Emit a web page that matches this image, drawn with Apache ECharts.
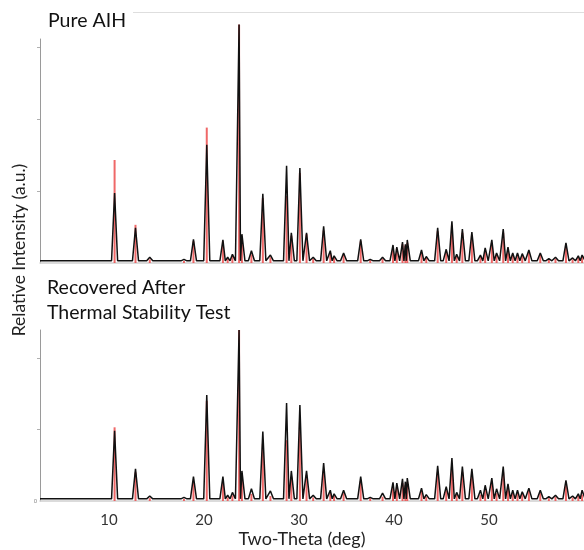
<!DOCTYPE html>
<html>
<head>
<meta charset="utf-8">
<script src="https://cdn.jsdelivr.net/npm/echarts@6/dist/echarts.min.js"></script>
<style>
  html, body { margin: 0; padding: 0; background: #fff; }
  #chart { width: 584px; height: 550px; }
</style>
</head>
<body>
<div id="chart"></div>
<script>
// 2-theta range shown on both panels
const thetaMin = 2.75;
const thetaMax = 60;
const xTickLabels = [10, 20, 30, 40, 50];

// Reflection positions (deg 2-theta)
const peakPos = [10.6, 12.8, 14.3, 17.9, 18.9, 20.3, 22.0, 22.5, 23.0, 23.7, 24.0, 25.0, 26.2, 27.0,
  28.7, 29.2, 30.1, 30.8, 31.5, 32.6, 33.3, 33.7, 34.7, 36.5, 37.5, 38.8, 39.9, 40.3, 40.9, 41.2,
  41.4, 42.9, 43.4, 44.6, 45.5, 46.1, 46.6, 47.2, 48.2, 49.1, 49.6, 50.3, 50.8, 51.5, 52.0, 52.5,
  53.0, 53.5, 54.2, 55.4, 56.3, 57.0, 58.1, 58.8, 59.4, 59.8];

// Measured intensities, pure AIH
const pureMeasured = [0.97, 0.49, 0.08, 0.05, 0.33, 1.64, 0.32, 0.08, 0.12, 3.31, 0.40, 0.17, 0.96, 0.11,
  1.35, 0.42, 1.32, 0.42, 0.08, 0.51, 0.17, 0.10, 0.14, 0.33, 0.05, 0.08, 0.25, 0.22, 0.29, 0.26,
  0.32, 0.18, 0.09, 0.49, 0.19, 0.58, 0.12, 0.47, 0.43, 0.11, 0.21, 0.32, 0.14, 0.47, 0.22, 0.14,
  0.14, 0.13, 0.18, 0.14, 0.06, 0.08, 0.28, 0.07, 0.10, 0.11];

// Reference pattern sticks, pure AIH panel
const pureReference = [1.43, 0.53, 0.05, 0.03, 0.30, 1.88, 0.30, 0.06, 0.10, 3.31, 0.35, 0.12, 0.90, 0.08,
  0.93, 0.38, 1.25, 0.40, 0.06, 0.45, 0.14, 0.08, 0.12, 0.30, 0.04, 0.06, 0.22, 0.20, 0.26, 0.24,
  0.28, 0.15, 0.07, 0.44, 0.16, 0.52, 0.10, 0.42, 0.38, 0.09, 0.18, 0.28, 0.12, 0.42, 0.19, 0.12,
  0.12, 0.11, 0.15, 0.12, 0.05, 0.06, 0.24, 0.05, 0.08, 0.09];

// Measured intensities, sample recovered after the thermal stability test
const recoveredMeasured = [0.98, 0.45, 0.07, 0.05, 0.34, 1.48, 0.34, 0.08, 0.12, 2.39, 0.42, 0.17, 0.97, 0.14,
  1.37, 0.42, 1.34, 0.42, 0.08, 0.53, 0.15, 0.10, 0.15, 0.34, 0.05, 0.11, 0.26, 0.25, 0.31, 0.27,
  0.32, 0.18, 0.09, 0.49, 0.20, 0.60, 0.12, 0.48, 0.45, 0.15, 0.22, 0.32, 0.17, 0.48, 0.24, 0.15,
  0.15, 0.13, 0.18, 0.15, 0.06, 0.08, 0.29, 0.07, 0.10, 0.15];

// Reference pattern sticks, recovered panel
const recoveredReference = [1.03, 0.40, 0.04, 0.03, 0.26, 1.40, 0.26, 0.05, 0.08, 2.39, 0.30, 0.10, 0.80, 0.07,
  0.85, 0.34, 1.10, 0.36, 0.05, 0.42, 0.11, 0.07, 0.11, 0.28, 0.04, 0.06, 0.20, 0.19, 0.25, 0.22,
  0.26, 0.14, 0.06, 0.40, 0.15, 0.48, 0.09, 0.40, 0.37, 0.09, 0.17, 0.26, 0.11, 0.40, 0.18, 0.11,
  0.11, 0.10, 0.14, 0.11, 0.04, 0.06, 0.22, 0.05, 0.07, 0.09];

// Background level of the measured scans
const baseLevel = 0.03;

// Panel titles and axis names
const panelTitles = ['Pure AIH', 'Recovered After\nThermal Stability Test'];
const xName = 'Two-Theta (deg)';
const yName = 'Relative Intensity (a.u.)';

// Polyline through each reflection with its feet on the background
function scanLine(pos, heights) {
  const halfBase = 0.32;
  const pts = [[thetaMin, baseLevel]];
  for (let i = 0; i < pos.length; i++) {
    const gapL = i > 0 ? pos[i] - pos[i - 1] : 1;
    const gapR = i < pos.length - 1 ? pos[i + 1] - pos[i] : 1;
    pts.push([pos[i] - Math.min(halfBase, gapL / 2), baseLevel]);
    pts.push([pos[i], heights[i]]);
    pts.push([pos[i] + Math.min(halfBase, gapR / 2), baseLevel]);
  }
  pts.push([thetaMax, baseLevel]);
  return pts;
}
function sticks(pos, heights) {
  return pos.map((p, i) => [p, heights[i]]);
}

const FONT = 'Lato';
const chart = echarts.init(document.getElementById('chart'), null, { renderer: 'canvas' });

function xAxisCfg(grid, labels) {
  return {
    type: 'value', gridIndex: grid, min: thetaMin, max: thetaMax,
    axisLine: { show: true, lineStyle: { color: '#cfcfcf', width: 1.5 } },
    axisTick: { show: false },
    splitLine: { show: false },
    axisLabel: labels ? {
      customValues: xTickLabels, fontFamily: FONT, fontSize: 15, color: '#333', margin: 12
    } : { show: false }
  };
}
function yAxisCfg(grid, max, ticks, labelVals) {
  return {
    type: 'value', gridIndex: grid, min: 0, max: max, interval: 1,
    axisLine: { show: true, lineStyle: { color: '#9a9a9a', width: 1 } },
    axisTick: { show: true, customValues: ticks, length: 3, lineStyle: { color: '#b0b0b0' } },
    splitLine: { show: false },
    axisLabel: labelVals ? {
      customValues: labelVals, fontSize: 6, color: '#888', margin: 3
    } : { show: false }
  };
}

const stickStyle = { color: 'rgba(236,78,78,0.85)' };
const lineStyle = { color: '#111', width: 1.5 };

chart.setOption({
  animation: false,
  grid: [
    { left: 40, right: 0, top: 39, height: 224 },
    { left: 40, right: 0, top: 330, height: 171 }
  ],
  xAxis: [xAxisCfg(0, false), xAxisCfg(1, true)],
  yAxis: [yAxisCfg(0, 3.11, [1, 2, 3], null), yAxisCfg(1, 2.39, [1, 2], [0])],
  series: [
    { type: 'bar', xAxisIndex: 0, yAxisIndex: 0, barWidth: 2, clip: false,
      itemStyle: stickStyle, data: sticks(peakPos, pureReference), z: 2 },
    { type: 'line', xAxisIndex: 0, yAxisIndex: 0, symbol: 'none', clip: false,
      lineStyle: lineStyle, data: scanLine(peakPos, pureMeasured), z: 3 },
    { type: 'bar', xAxisIndex: 1, yAxisIndex: 1, barWidth: 2, clip: false,
      itemStyle: stickStyle, data: sticks(peakPos, recoveredReference), z: 2 },
    { type: 'line', xAxisIndex: 1, yAxisIndex: 1, symbol: 'none', clip: false,
      lineStyle: lineStyle, data: scanLine(peakPos, recoveredMeasured), z: 3 }
  ],
  graphic: [
    { type: 'line', shape: { x1: 133, y1: 12.5, x2: 584, y2: 12.5 },
      style: { stroke: '#dedede', lineWidth: 1 }, silent: true },
    { type: 'text', left: 48, top: 11,
      style: { text: panelTitles[0], font: '19.5px ' + FONT, fill: '#111' } },
    { type: 'text', left: 47, top: 275,
      style: { text: panelTitles[1], font: '19.5px ' + FONT, fill: '#111', lineHeight: 25 } },
    { type: 'text', x: 302, y: 539,
      style: { text: xName, font: '18px ' + FONT, fill: '#222', align: 'center', verticalAlign: 'middle' } },
    { type: 'text', x: 19, y: 250, rotation: Math.PI / 2,
      style: { text: yName, font: '17.5px ' + FONT, fill: '#222', align: 'center', verticalAlign: 'middle' } }
  ]
});
</script>
</body>
</html>
